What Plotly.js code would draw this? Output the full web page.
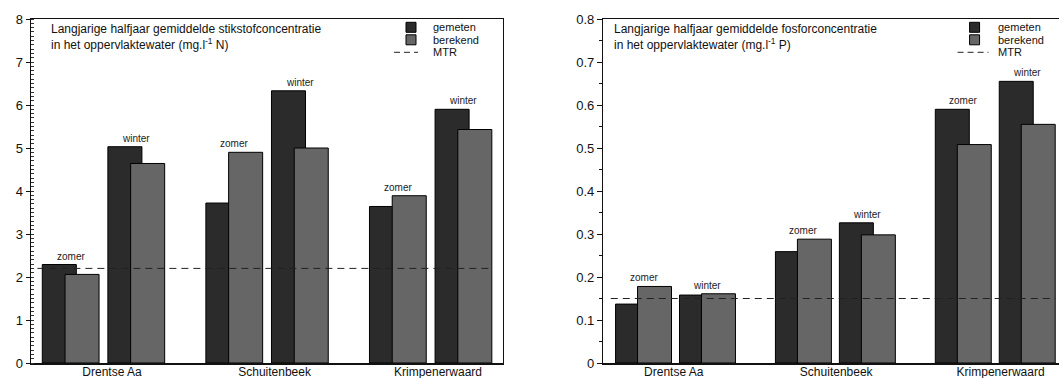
<!DOCTYPE html>
<html>
<head>
<meta charset="utf-8">
<script src="https://cdn.plot.ly/plotly-3.0.1.min.js"></script>
<style>
html,body{margin:0;padding:0;background:#fff;overflow:hidden;width:1059px;height:378px;}
#chart{width:1090px;height:378px;}
</style>
</head>
<body>
<div id="chart"></div>
<script>
// ---- data ----
const sites = ["Drentse Aa", "Schuitenbeek", "Krimpenerwaard"];
const seasons = ["zomer", "winter"];
const seriesNames = ["gemeten", "berekend", "MTR"];
// values ordered site by site: [zomer, winter]
const nGemeten  = [2.29, 5.03, 3.72, 6.33, 3.64, 5.90];
const nBerekend = [2.06, 4.64, 4.90, 5.00, 3.89, 5.43];
const nMTR = 2.2;
const pGemeten  = [0.137, 0.158, 0.259, 0.326, 0.590, 0.655];
const pBerekend = [0.178, 0.161, 0.288, 0.298, 0.508, 0.555];
const pMTR = 0.15;
const nTickVals = [0, 1, 2, 3, 4, 5, 6, 7, 8];
const nTickText = ["0", "1", "2", "3", "4", "5", "6", "7", "8"];
const pTickVals = [0, 0.1, 0.2, 0.3, 0.4, 0.5, 0.6, 0.7, 0.8];
const pTickText = ["0", "0.1", "0.2", "0.3", "0.4", "0.5", "0.6", "0.7", "0.8"];
const titleN = ["Langjarige halfjaar gemiddelde stikstofconcentratie", "in het oppervlaktewater (mg.l<sup>-1</sup> N)"];
const titleP = ["Langjarige halfjaar gemiddelde fosforconcentratie", "in het oppervlaktewater (mg.l<sup>-1</sup> P)"];

// ---- geometry (layout only) ----
const W = 1090, H = 378, ML = 30.7, MR = 14.5, MT = 18.7, MB = 15.3;
const PW = W - ML - MR, PH = H - MT - MB;
const px = v => (v - ML) / PW;          // page pixel -> paper x
const py = v => 1 - (v - MT) / PH;      // page pixel -> paper y
const geo = {
  N: {bw: 0.208, berShift: 0.139, winShift: 0.401, tickPos: [0.322, 1.316, 2.315], range: [-0.173, 2.710],
      titleX: 49, legBoxX: 406, legLineX: [394, 418], legTextX: 431},
  P: {bw: 0.2125, berShift: 0.1375, winShift: 0.400, tickPos: [0.258, 1.274, 2.302], range: [-0.1825, 2.7675],
      titleX: 612, legBoxX: 970, legLineX: [958, 989], legTextX: 996}
};
const legRowsY = [27, 39.5, 52];
const FONT = "Arial, 'Liberation Sans', sans-serif";
const colGem = "#2b2b2b", colBer = "#666666", colMTR = "#222";

function positions(g) {
  const xs = [];
  sites.forEach((s, i) => seasons.forEach((se, j) => xs.push(i + (j === 1 ? g.winShift : 0))));
  return xs;
}

function buildTraces(gem, ber, mtr, g, xa, ya) {
  const xs = positions(g);
  const lastEdge = (sites.length - 1) + g.winShift + g.berShift + g.bw / 2;
  return [
    {type: "bar", name: seriesNames[0], x: xs, y: gem, xaxis: xa, yaxis: ya,
     width: g.bw, offset: -g.bw / 2,
     marker: {color: colGem, line: {color: "#000", width: 1}}, hoverinfo: "y"},
    {type: "bar", name: seriesNames[1], x: xs, y: ber, xaxis: xa, yaxis: ya,
     width: g.bw, offset: -g.bw / 2 + g.berShift,
     marker: {color: colBer, line: {color: "#000", width: 1}}, hoverinfo: "y"},
    {type: "scatter", mode: "lines", name: seriesNames[2], xaxis: xa, yaxis: ya,
     x: [-g.bw / 2 - 0.03, lastEdge], y: [mtr, mtr],
     line: {color: colMTR, width: 1, dash: "7px,5px"}, hoverinfo: "skip"}
  ];
}

function seasonLabels(gem, ber, g, xref, yref) {
  const xs = positions(g);
  return xs.map((x, k) => ({
    xref: xref, yref: yref, x: x + g.berShift / 2, y: Math.max(gem[k], ber[k]),
    text: seasons[k % 2], showarrow: false, yanchor: "bottom", yshift: 1,
    font: {family: FONT, size: 10, color: "#222"}
  }));
}

function titleAnns(lines, g) {
  return lines.map((t, i) => ({
    xref: "paper", yref: "paper", x: px(g.titleX), y: py(29 + i * 14.3),
    xanchor: "left", yanchor: "middle", align: "left", showarrow: false, text: t,
    font: {family: FONT, size: 12, color: "#111"}
  }));
}

function legendParts(g) {
  const shapes = [
    {type: "rect", xref: "paper", yref: "paper", x0: px(g.legBoxX), x1: px(g.legBoxX + 10),
     y0: py(legRowsY[0] - 5), y1: py(legRowsY[0] + 5), fillcolor: colGem, line: {color: "#000", width: 1}},
    {type: "rect", xref: "paper", yref: "paper", x0: px(g.legBoxX), x1: px(g.legBoxX + 10),
     y0: py(legRowsY[1] - 5), y1: py(legRowsY[1] + 5), fillcolor: colBer, line: {color: "#000", width: 1}},
    {type: "line", xref: "paper", yref: "paper", x0: px(g.legLineX[0]), x1: px(g.legLineX[1]),
     y0: py(legRowsY[2]), y1: py(legRowsY[2]), line: {color: colMTR, width: 1, dash: "6px,4px"}}
  ];
  const anns = seriesNames.map((n, i) => ({
    xref: "paper", yref: "paper", x: px(g.legTextX), y: py(legRowsY[i]),
    xanchor: "left", yanchor: "middle", showarrow: false, text: n,
    font: {family: FONT, size: 11, color: "#111"}
  }));
  return {shapes, anns};
}

const data = [].concat(
  buildTraces(nGemeten, nBerekend, nMTR, geo.N, "x", "y"),
  buildTraces(pGemeten, pBerekend, pMTR, geo.P, "x2", "y2")
);

const axisX = (g, dom, anchor) => ({
  domain: dom, anchor: anchor, range: g.range, tickmode: "array",
  tickvals: g.tickPos, ticktext: sites, ticks: "", showgrid: false, zeroline: false,
  showline: true, linecolor: "#111", linewidth: 1.5, mirror: true, ticklabelstandoff: -3,
  tickfont: {family: FONT, size: 12, color: "#111"}, fixedrange: true
});

const legN = legendParts(geo.N), legP = legendParts(geo.P);

const layout = {
  width: W, height: H,
  margin: {l: ML, r: MR, t: MT, b: MB, pad: 0},
  paper_bgcolor: "#fff", plot_bgcolor: "#fff",
  barmode: "overlay", bargap: 0, showlegend: false,
  font: {family: FONT, color: "#111"},
  xaxis: axisX(geo.N, [0, px(502.7)], "y"),
  xaxis2: axisX(geo.P, [px(603.5), 1], "y2"),
  yaxis: {domain: [0, 1], anchor: "x", range: [0, 8], tickmode: "array", tickvals: nTickVals, ticktext: nTickText,
    ticks: "outside", ticklen: 4, tickwidth: 1, tickcolor: "#111",
    minor: {dtick: 0.1, ticks: "inside", ticklen: 3, tickwidth: 1, tickcolor: "#333", showgrid: false},
    showgrid: false, zeroline: false, showline: true, linecolor: "#111", linewidth: 1.5, mirror: true,
    tickfont: {family: FONT, size: 13, color: "#111"}, fixedrange: true},
  yaxis2: {domain: [0, 1], anchor: "x2", range: [0, 0.8], tickmode: "array", tickvals: pTickVals, ticktext: pTickText,
    ticks: "outside", ticklen: 5, tickwidth: 1, tickcolor: "#111",
    minor: {dtick: 0.05, ticks: "outside", ticklen: 3, tickwidth: 1, tickcolor: "#111", showgrid: false},
    showgrid: false, zeroline: false, showline: true, linecolor: "#111", linewidth: 1.5, mirror: true,
    tickfont: {family: FONT, size: 13, color: "#111"}, fixedrange: true},
  shapes: [].concat(legN.shapes, legP.shapes),
  annotations: [].concat(
    titleAnns(titleN, geo.N), titleAnns(titleP, geo.P),
    legN.anns, legP.anns,
    seasonLabels(nGemeten, nBerekend, geo.N, "x", "y"),
    seasonLabels(pGemeten, pBerekend, geo.P, "x2", "y2")
  )
};

Plotly.newPlot("chart", data, layout, {displayModeBar: false, staticPlot: true});
</script>
</body>
</html>
